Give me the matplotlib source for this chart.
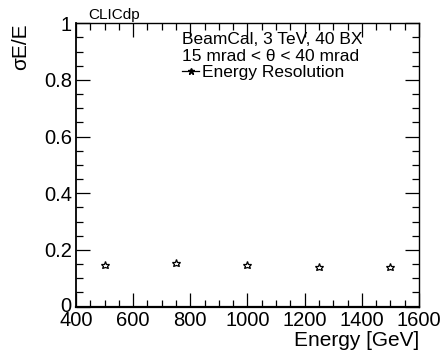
import matplotlib
matplotlib.use("Agg")
import matplotlib.pyplot as plt
import matplotlib.transforms as mtransforms
from matplotlib.lines import Line2D
from matplotlib.ticker import MultipleLocator

plt.rcParams['font.family'] = ['Liberation Sans', 'DejaVu Sans']

energy = [500, 750, 1000, 1250, 1500]
resolution = [0.148, 0.153, 0.146, 0.141, 0.141]

W, H = 445, 357
fig = plt.figure(figsize=(W / 100, H / 100), dpi=100)
ax = fig.add_axes([76 / W, 1 - 306.5 / H, (419 - 76) / W, (306.5 - 23.3) / H])

ax.plot(energy, resolution, linestyle='none', marker='*', markersize=6.2,
        markerfacecolor='none', markeredgecolor='black', markeredgewidth=0.9)

ax.set_xlim(400, 1600)
ax.set_ylim(0, 1)
ax.xaxis.set_major_locator(MultipleLocator(200))
ax.xaxis.set_minor_locator(MultipleLocator(50))
ax.yaxis.set_minor_locator(MultipleLocator(0.05))
ax.set_yticks([0, 0.2, 0.4, 0.6, 0.8, 1.0])
ax.set_yticklabels(['0', '0.2', '0.4', '0.6', '0.8', '1'])

ax.tick_params(which='both', direction='in', top=True, right=True,
               labelsize=14.5, width=0.9)
ax.tick_params(axis='x', pad=3)
ax.tick_params(axis='y', pad=3)
ax.tick_params(which='major', length=10)
ax.tick_params(which='minor', length=5)
for s in ax.spines.values():
    s.set_linewidth(1.0)
ax.spines['bottom'].set_linewidth(1.6)
ax.spines['left'].set_linewidth(1.3)

# lift the "0" label slightly so it clears the x tick labels
zero_label = ax.get_yticklabels()[0]
zero_label.set_transform(zero_label.get_transform() +
                         mtransforms.ScaledTranslation(0, 2 / 100, fig.dpi_scale_trans))

ax.set_xlabel('Energy [GeV]', fontsize=15, loc='right', labelpad=1)
ax.set_ylabel('σE/E', fontsize=15, loc='top', labelpad=10)

fig.text(88 / W, 1 - 19.5 / H, 'CLICdp', fontsize=11, va='baseline')
fig.text(182 / W, 1 - 44.5 / H, 'BeamCal, 3 TeV, 40 BX', fontsize=12.5, va='baseline')
fig.text(182 / W, 1 - 61 / H, '15 mrad < θ < 40 mrad', fontsize=12.5, va='baseline')

handle = Line2D([], [], color='black', lw=0.9, marker='*', markersize=5,
                markerfacecolor='black', markeredgecolor='black')
leg = ax.legend([handle], ['Energy Resolution'], frameon=False, fontsize=12.5,
                loc='center left', bbox_to_anchor=(182 / W, 1 - 72 / H),
                bbox_transform=fig.transFigure, handlelength=1.0,
                handletextpad=0.15, borderpad=0, borderaxespad=0)

fig.savefig('out.png', dpi=100)
